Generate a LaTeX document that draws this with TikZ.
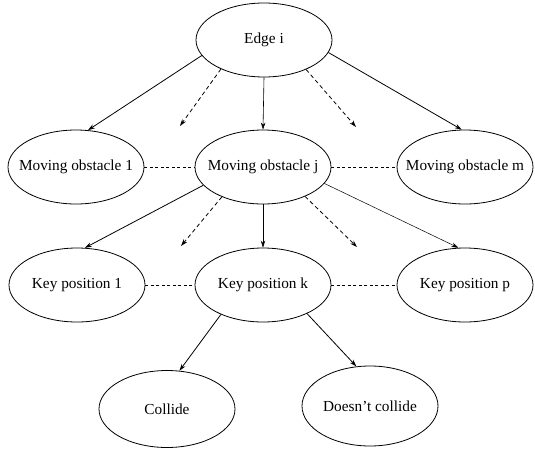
\documentclass[tikz,border=0pt]{standalone}
\usepackage{fontspec}
\setmainfont{Liberation Serif}
\usetikzlibrary{shapes.geometric,arrows.meta}

\tikzset{
  state/.style={draw, ellipse, minimum width=136pt, minimum height=74pt,
    inner xsep=-12pt, inner ysep=0pt, line width=0.8pt,
    font=\fontsize{15.3}{17}\selectfont},
  tree/.style={line width=0.8pt, -{Stealth[length=7pt,width=4.5pt]}},
  maybe/.style={tree, dash pattern=on 4pt off 3pt},
  peer/.style={line width=0.7pt, dash pattern=on 3pt off 2.5pt},
}

\begin{document}
\begin{tikzpicture}[x=1pt,y=-1pt]
	%%%%% START %%%%%
	\useasboundingbox (0,0) rectangle (535,452);
	
	\node[state] (edge) at (264, 40) {Edge i};
	
	\node[state] (mo1) at (76, 167) {Moving obstacle 1};
	\node[state] (moj) at (263, 167) {Moving obstacle j};
	\node[state] (mom) at (465, 167) {Moving obstacle m};
	
	\node[state] (kp1) at (77, 285) {Key position 1};
	\node[state] (kpk) at (263, 285) {Key position k};
	\node[state] (kpp) at (465, 285) {Key position p};
	
	\node[state, minimum height=77pt] (hit) at (167, 409) {\raisebox{-3pt}{Collide}};
	\node[state, minimum height=80pt] (miss) at (370, 406) {Doesn't collide};
	
	% loose ends of the dashed arrows
	\coordinate (e1) at (180, 126);
	\coordinate (e2) at (356, 127);
	\coordinate (j1) at (181, 246);
	\coordinate (j2) at (357, 247);
	
	\draw[tree] (edge.194) -- (mo1.72);
	\draw[maybe] (edge.214) -- (e1);
	\draw[tree, line width=0.6pt] (edge.south) -- (moj.north);
	\draw[maybe] (edge.325) -- (e2);
	\draw[tree] (edge.349) -- (mom.95);
	
	\draw[peer] (mo1.east) -- (moj.west);
	\draw[peer] (moj.east) -- (mom.west);
	
	\draw[tree] (moj.197) -- (kp1.78);
	\draw[maybe] (moj.216) -- (j1);
	\draw[tree, line width=0.6pt] (moj.south) -- (kpk.north);
	\draw[maybe] (moj.325) -- (j2);
	\draw[tree, line width=0.5pt] (moj.345) -- (kpp.100);
	
	\draw[peer] (kp1.east) -- (kpk.west);
	\draw[peer] (kpk.east) -- (kpp.west);
	
	\draw[tree] (kpk.215) -- (hit.72);
	\draw[tree] (kpk.327) -- (miss.109);
	
	%%%%% END %%%%%
\end{tikzpicture}
\end{document}
